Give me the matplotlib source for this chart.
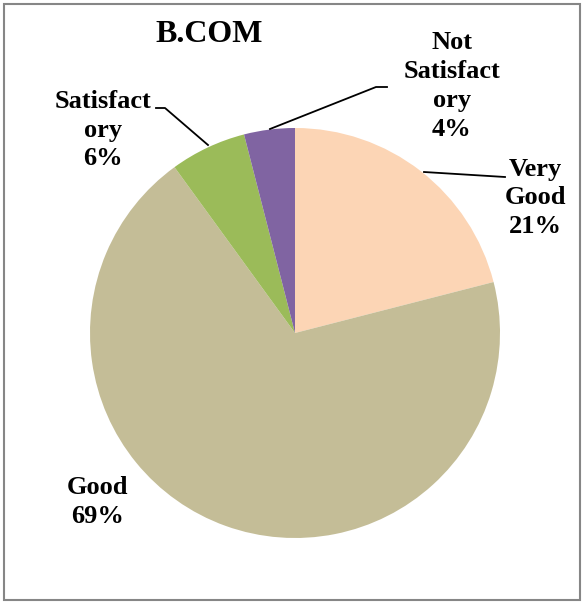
import matplotlib
matplotlib.use("Agg")
import matplotlib.pyplot as plt
from matplotlib.patches import Rectangle

title = "B.COM"
categories = ["Very\nGood", "Good", "Satisfact\nory", "Not\nSatisfact\nory"]
values = [21, 69, 6, 4]
colors = ["#FCD5B5", "#C4BD97", "#9BBB59", "#8064A2"]

W, H = 583, 603
fig = plt.figure(figsize=(W / 100, H / 100), dpi=100)
ax = fig.add_axes([0, 0, 1, 1])

def Y(y):
    return H - y

cx, cy, r = 295, 333, 205
ax.pie(values, colors=colors, startangle=90, counterclock=False,
       center=(cx, Y(cy)), radius=r, frame=True,
       wedgeprops=dict(linewidth=0))
ax.set_xlim(0, W)
ax.set_ylim(0, H)
ax.set_aspect("equal")
ax.axis("off")

ax.add_patch(Rectangle((4, Y(600)), 576, 596, fill=False,
                       edgecolor="#868686", linewidth=1.5))

font = dict(family="Liberation Serif", weight="bold", size=19)
ax.text(209, Y(34), title, ha="center", va="center",
        family="Liberation Serif", weight="bold", size=23)

total = sum(values)
pos = [(535, 198), (98, 502), (103, 130), (452, 86)]
for cat, v, (x, y) in zip(categories, values, pos):
    ax.text(x, Y(y), f"{cat}\n{round(100 * v / total)}%", ha="center",
            va="center", linespacing=1.32, **font)

lines = [
    [(424, 172), (505, 177)],
    [(208, 145), (165, 108), (156, 108)],
    [(270, 129), (376, 87), (387, 87)],
]
for pts in lines:
    ax.plot([p[0] for p in pts], [Y(p[1]) for p in pts], color="black",
            linewidth=1.3)

fig.savefig("out.png", dpi=100)
